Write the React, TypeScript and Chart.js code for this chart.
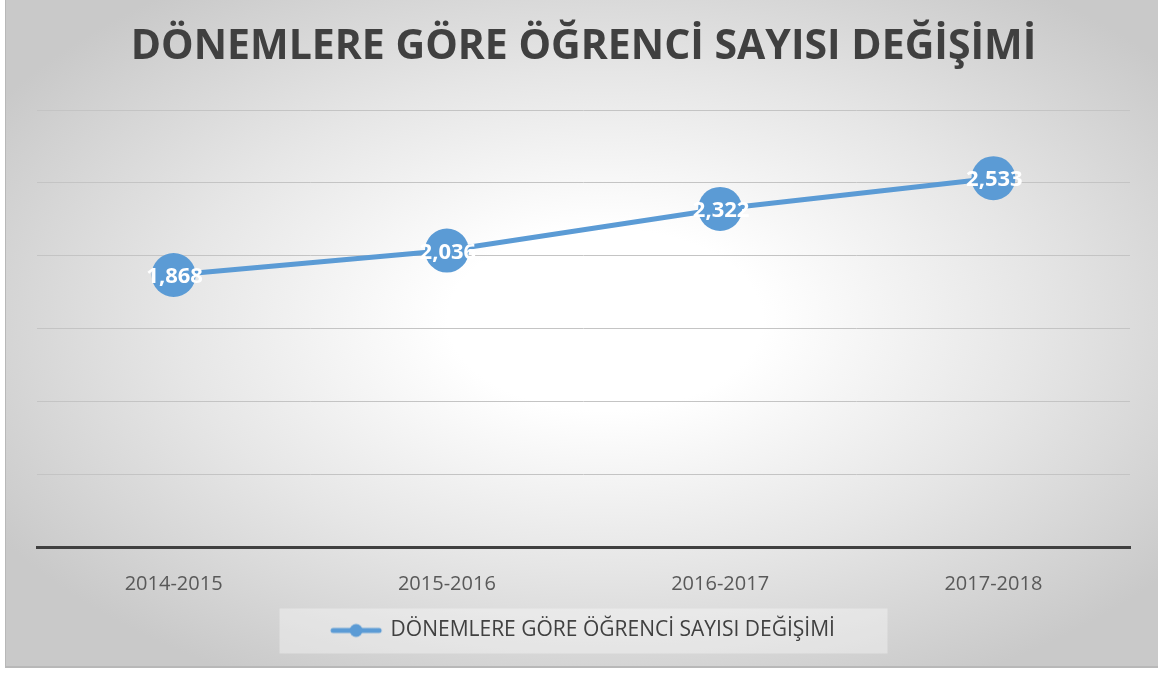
import React, { useEffect, useRef } from "react";
import { Chart, registerables } from "chart.js";

Chart.register(...registerables);

const TITLE = "DÖNEMLERE GÖRE ÖĞRENCİ SAYISI DEĞİŞİMİ";
const SERIES_NAME = "DÖNEMLERE GÖRE ÖĞRENCİ SAYISI DEĞİŞİMİ";
const categories = ["2014-2015", "2015-2016", "2016-2017", "2017-2018"];
const values = [1868, 2036, 2322, 2533];
const yMin = 0;
const yMax = 3000;
const yStep = 500;

const LINE_COLOR = "#5b9bd5";

function makeLegendIcon(): HTMLCanvasElement {
  const c = document.createElement("canvas");
  c.width = 54;
  c.height = 16;
  const ctx = c.getContext("2d")!;
  ctx.strokeStyle = LINE_COLOR;
  ctx.lineWidth = 5;
  ctx.lineCap = "round";
  ctx.beginPath();
  ctx.moveTo(4, 8);
  ctx.lineTo(50, 8);
  ctx.stroke();
  ctx.fillStyle = LINE_COLOR;
  ctx.beginPath();
  ctx.arc(27, 8, 6.5, 0, Math.PI * 2);
  ctx.fill();
  return c;
}

const dataLabelPlugin = {
  id: "dataLabels",
  afterDatasetsDraw(chart: any) {
    const ctx = chart.ctx;
    const meta = chart.getDatasetMeta(0);
    ctx.save();
    ctx.fillStyle = "#ffffff";
    ctx.font = "bold 22px 'Open Sans', sans-serif";
    ctx.textAlign = "center";
    ctx.textBaseline = "middle";
    meta.data.forEach((pt: any, i: number) => {
      const v = values[i];
      ctx.fillText(v.toLocaleString("en-US"), pt.x + 1, pt.y + 2);
    });
    ctx.restore();
  },
};

const legendBoxPlugin = {
  id: "legendBox",
  beforeDraw(chart: any) {
    const lg = chart.legend;
    if (!lg || !lg.legendHitBoxes || !lg.legendHitBoxes.length) return;
    const hb = lg.legendHitBoxes[0];
    const ctx = chart.ctx;
    ctx.save();
    ctx.fillStyle = "rgba(255,255,255,0.35)";
    const cy = hb.top + hb.height / 2;
    const cx = hb.left + hb.width / 2;
    ctx.fillRect(cx - 304, cy - 22, 608, 45);
    ctx.restore();
  },
};

export default function App() {
  const ref = useRef<HTMLCanvasElement | null>(null);

  useEffect(() => {
    document.body.style.margin = "0";
    const icon = makeLegendIcon();
    const chart = new Chart(ref.current!, {
      type: "line",
      data: {
        labels: categories,
        datasets: [
          {
            label: SERIES_NAME,
            data: values,
            borderColor: LINE_COLOR,
            backgroundColor: LINE_COLOR,
            borderWidth: 5,
            pointRadius: 22,
            pointHoverRadius: 22,
            pointBorderWidth: 0,
            pointBackgroundColor: LINE_COLOR,
            tension: 0,
          },
        ],
      },
      options: {
        responsive: false,
        animation: false,
        layout: { padding: { left: 31, right: 28, top: 0, bottom: 15 } },
        plugins: {
          title: {
            display: true,
            text: TITLE,
            color: "#404040",
            font: { family: "'Open Sans', sans-serif", size: 41, weight: "bold" },
            padding: { top: 23, bottom: 38 },
          },
          legend: {
            position: "bottom",
            labels: {
              color: "#404040",
              font: { family: "'Open Sans', sans-serif", size: 21 },
              usePointStyle: true,
              pointStyleWidth: 48,
              padding: 10,
              generateLabels: (ch: any) =>
                ch.data.datasets.map((ds: any, i: number) => ({
                  text: ds.label,
                  fillStyle: LINE_COLOR,
                  strokeStyle: LINE_COLOR,
                  lineWidth: 0,
                  pointStyle: icon,
                  hidden: false,
                  datasetIndex: i,
                  fontColor: "#404040",
                })),
            },
          },
          tooltip: { enabled: false },
        },
        scales: {
          x: {
            offset: true,
            grid: { display: false },
            border: { display: true, color: "#404040", width: 3 },
            ticks: {
              color: "#595959",
              font: { family: "'Open Sans', sans-serif", size: 20 },
              padding: 17,
            },
            afterFit: (s: any) => {
              s.height = 63;
            },
          },
          y: {
            min: yMin,
            max: yMax,
            ticks: { stepSize: yStep, display: false },
            grid: { color: "#c4c4c4", lineWidth: 1, drawTicks: false },
            border: { display: false },
            afterFit: (s: any) => {
              s.width = 0;
            },
          },
        },
      },
      plugins: [legendBoxPlugin, dataLabelPlugin],
    });
    return () => chart.destroy();
  }, []);

  return (
    <div style={{ position: "relative", width: 1158, height: 675, background: "#ffffff", overflow: "hidden" }}>
      <div
        style={{
          position: "absolute",
          left: 5,
          top: 0,
          width: 1153,
          height: 668,
          borderLeft: "1px solid #b8b8b8",
          borderBottom: "2px solid #b8b8b8",
          boxSizing: "border-box",
          background:
            "radial-gradient(ellipse 62% 62% at 52% 48%, #ffffff 0%, #ffffff 22%, #e6e6e6 60%, #c9c9c9 100%)",
        }}
      >
        <canvas ref={ref} width={1152} height={666} style={{ display: "block" }} />
      </div>
    </div>
  );
}
